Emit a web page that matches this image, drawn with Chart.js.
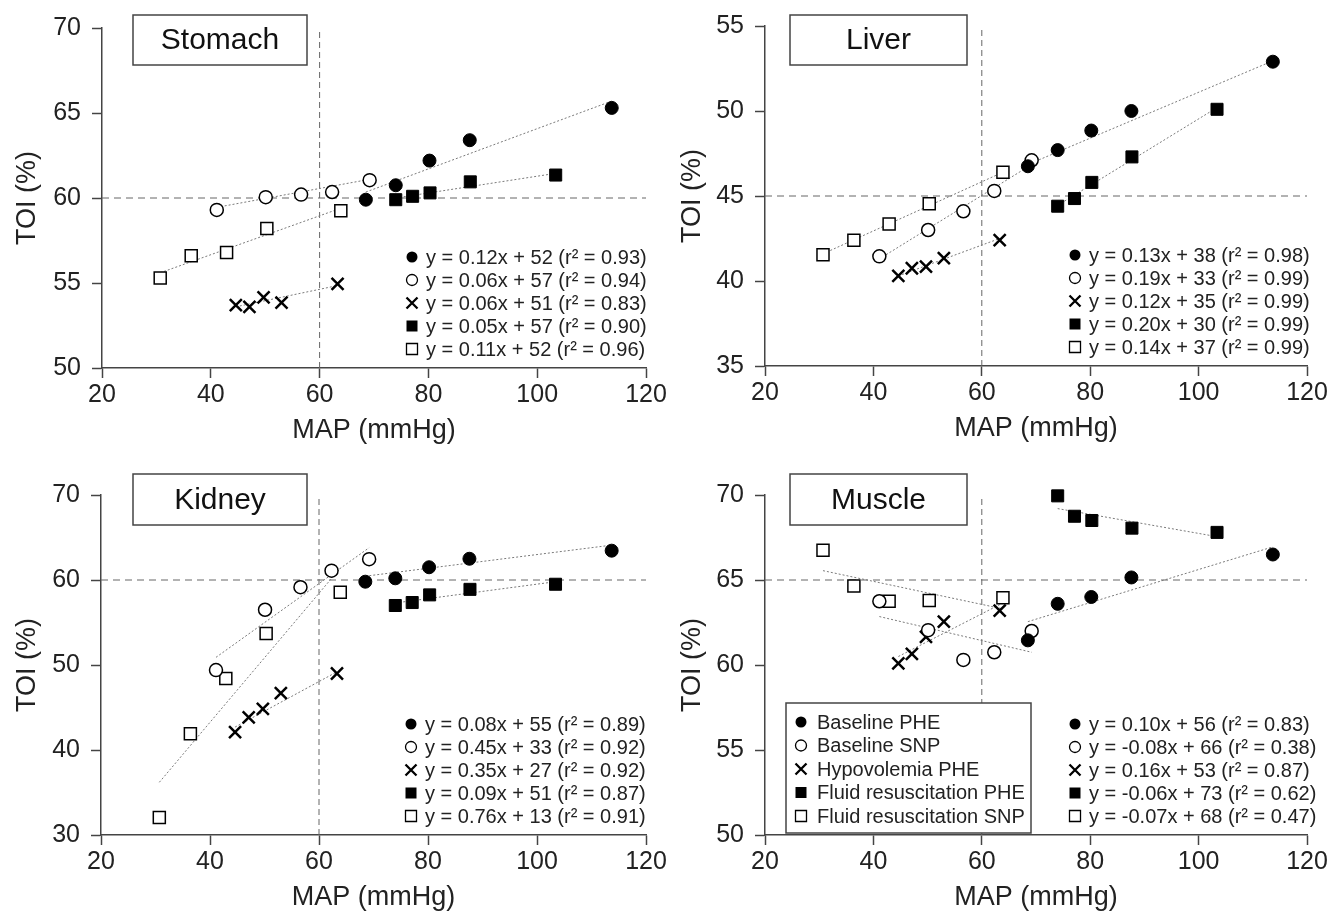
<!DOCTYPE html>
<html>
<head>
<meta charset="utf-8">
<title>TOI vs MAP</title>
<script src="https://cdn.jsdelivr.net/npm/chart.js@4.4.1/dist/chart.umd.min.js"></script>
<style>
  html, body { margin: 0; padding: 0; background: #fff; }
  #wrap { position: relative; width: 1331px; height: 915px; overflow: hidden; background: #fff; }
  #wrap canvas { position: absolute; }
</style>
</head>
<body>
<div id="wrap">
  <canvas id="cStomach" width="680" height="455" style="left:0;top:0"></canvas>
  <canvas id="cLiver" width="666" height="455" style="left:665px;top:0"></canvas>
  <canvas id="cKidney" width="680" height="460" style="left:0;top:455px"></canvas>
  <canvas id="cMuscle" width="666" height="460" style="left:665px;top:455px"></canvas>
</div>
<script>
// MAP (mmHg) per group, same for all organs
const mapBaselinePHE = [68.5, 74.0, 80.2, 87.6, 113.7];
const mapBaselineSNP = [41.1, 50.1, 56.6, 62.3, 69.2];
const mapHypoPHE = [44.6, 47.1, 49.7, 53.0, 63.3];
const mapFluidPHE = [74.0, 77.1, 80.3, 87.7, 103.4];
const mapFluidSNP = [30.7, 36.4, 42.9, 50.3, 63.9];
const mapTicks = [20, 40, 60, 80, 100, 120];
const mapRef = 60;

const groupNames = ['Baseline PHE', 'Baseline SNP', 'Hypovolemia PHE', 'Fluid resuscitation PHE', 'Fluid resuscitation SNP'];

// TOI (%) - stomach
const stomachBaselinePHE = [59.9, 60.75, 62.2, 63.4, 65.3];
const stomachBaselineSNP = [59.3, 60.05, 60.2, 60.35, 61.05];
const stomachHypoPHE = [53.7, 53.6, 54.15, 53.85, 54.95];
const stomachFluidPHE = [59.9, 60.1, 60.3, 60.95, 61.35];
const stomachFluidSNP = [55.3, 56.6, 56.8, 58.2, 59.25];
const stomachFits = [[68.5, 60.35, 113.7, 65.7], [41.1, 59.45, 69.2, 61.1], [44.6, 53.6, 63.3, 54.85], [74.0, 60.0, 103.4, 61.45], [30.7, 55.6, 63.9, 59.4]];
const stomachEqs = ['y = 0.12x + 52 (r² = 0.93)', 'y = 0.06x + 57 (r² = 0.94)', 'y = 0.06x + 51 (r² = 0.83)', 'y = 0.05x + 57 (r² = 0.90)', 'y = 0.11x + 52 (r² = 0.96)'];
const stomachTicks = [50, 55, 60, 65, 70];
const stomachRef = 60;

// TOI (%) - liver
const liverBaselinePHE = [46.75, 47.7, 48.85, 50.0, 52.9];
const liverBaselineSNP = [41.45, 43.0, 44.1, 45.3, 47.1];
const liverHypoPHE = [40.3, 40.75, 40.85, 41.35, 42.4];
const liverFluidPHE = [44.4, 44.85, 45.8, 47.3, 50.1];
const liverFluidSNP = [41.55, 42.4, 43.35, 44.55, 46.4];
const liverFits = [[68.5, 46.85, 113.7, 52.95], [41.1, 41.3, 69.2, 46.85], [44.6, 40.3, 63.3, 42.5], [74.0, 44.45, 103.4, 50.2], [30.7, 41.6, 63.9, 46.4]];
const liverEqs = ['y = 0.13x + 38 (r² = 0.98)', 'y = 0.19x + 33 (r² = 0.99)', 'y = 0.12x + 35 (r² = 0.99)', 'y = 0.20x + 30 (r² = 0.99)', 'y = 0.14x + 37 (r² = 0.99)'];
const liverTicks = [35, 40, 45, 50, 55];
const liverRef = 45;

// TOI (%) - kidney
const kidneyBaselinePHE = [59.8, 60.2, 61.5, 62.5, 63.45];
const kidneyBaselineSNP = [49.4, 56.5, 59.15, 61.1, 62.45];
const kidneyHypoPHE = [42.1, 43.85, 44.85, 46.7, 49.0];
const kidneyFluidPHE = [57.0, 57.35, 58.25, 58.9, 59.5];
const kidneyFluidSNP = [32.05, 41.9, 48.4, 53.7, 58.55];
const kidneyFits = [[68.5, 60.45, 113.7, 64.1], [41.1, 50.9, 69.2, 63.8], [44.6, 42.7, 63.3, 49.2], [74.0, 57.3, 103.4, 59.8], [30.7, 36.2, 63.9, 61.4]];
const kidneyEqs = ['y = 0.08x + 55 (r² = 0.89)', 'y = 0.45x + 33 (r² = 0.92)', 'y = 0.35x + 27 (r² = 0.92)', 'y = 0.09x + 51 (r² = 0.87)', 'y = 0.76x + 13 (r² = 0.91)'];
const kidneyTicks = [30, 40, 50, 60, 70];
const kidneyRef = 60;

// TOI (%) - muscle
const muscleBaselinePHE = [61.45, 63.6, 64.0, 65.15, 66.5];
const muscleBaselineSNP = [63.75, 62.05, 60.3, 60.75, 62.0];
const muscleHypoPHE = [60.1, 60.65, 61.65, 62.55, 63.2];
const muscleFluidPHE = [69.95, 68.75, 68.5, 68.05, 67.8];
const muscleFluidSNP = [66.75, 64.65, 63.75, 63.8, 63.95];
const muscleFits = [[68.5, 62.55, 113.7, 66.95], [41.1, 62.85, 69.2, 60.75], [44.6, 60.5, 63.3, 63.55], [74.0, 69.2, 103.4, 67.55], [30.7, 65.55, 63.9, 63.3]];
const muscleEqs = ['y = 0.10x + 56 (r² = 0.83)', 'y = -0.08x + 66 (r² = 0.38)', 'y = 0.16x + 53 (r² = 0.87)', 'y = -0.06x + 73 (r² = 0.62)', 'y = -0.07x + 68 (r² = 0.47)'];
const muscleTicks = [50, 55, 60, 65, 70];
const muscleRef = 65;

const FONT = '"Liberation Sans", Arial, Helvetica, sans-serif';
const INK = '#222';
const AXIS = '#444';

const groupX = [mapBaselinePHE, mapBaselineSNP, mapHypoPHE, mapFluidPHE, mapFluidSNP];
// marker look per group: filled dot, open dot, cross, filled square, open square
const marks = [
    { kind: 'dot', pointStyle: 'circle', radius: 6.5, bg: '#000', bw: 1 },
    { kind: 'ring', pointStyle: 'circle', radius: 6.5, bg: '#fff', bw: 1.5 },
    { kind: 'cross', pointStyle: 'crossRot', radius: 8.5, bg: '#000', bw: 2.5 },
    { kind: 'box', pointStyle: 'rect', radius: 8.5, bg: '#000', bw: 1 },
    { kind: 'openbox', pointStyle: 'rect', radius: 8.5, bg: '#fff', bw: 1.5 }
];

function drawMark(ctx, kind, x, y, s) {
    ctx.save();
    ctx.setLineDash([]);
    ctx.strokeStyle = '#000';
    ctx.fillStyle = '#000';
    ctx.beginPath();
    if (kind === 'dot' || kind === 'ring') {
        ctx.arc(x, y, s / 2, 0, Math.PI * 2);
        ctx.lineWidth = 1.3;
        if (kind === 'dot') ctx.fill(); else ctx.stroke();
    } else if (kind === 'box' || kind === 'openbox') {
        ctx.rect(x - s / 2, y - s / 2, s, s);
        ctx.lineWidth = 1.3;
        if (kind === 'box') ctx.fill(); else ctx.stroke();
    } else {
        const h = s / 2;
        ctx.lineWidth = 2.3;
        ctx.moveTo(x - h, y - h); ctx.lineTo(x + h, y + h);
        ctx.moveTo(x + h, y - h); ctx.lineTo(x - h, y + h);
        ctx.stroke();
    }
    ctx.restore();
}

// dashed reference lines, organ box, equations and group legend
const panelDecor = {
    id: 'panelDecor',
    beforeDatasetsDraw(chart, args, opts) {
        const { ctx, chartArea: a, scales: { x, y } } = chart;
        ctx.save();
        ctx.strokeStyle = '#666';
        ctx.lineWidth = 1;
        ctx.setLineDash([7, 5]);
        const yp = y.getPixelForValue(opts.refY);
        ctx.beginPath(); ctx.moveTo(a.left, yp); ctx.lineTo(a.right, yp); ctx.stroke();
        ctx.setLineDash([6, 4]);
        const xp = x.getPixelForValue(mapRef);
        ctx.beginPath(); ctx.moveTo(xp, a.top + 4); ctx.lineTo(xp, a.bottom); ctx.stroke();
        ctx.restore();
    },
    afterDraw(chart, args, opts) {
        const { ctx, chartArea: a } = chart;
        ctx.save();
        // organ name box
        const [bx, by, bw, bh] = opts.box;
        ctx.fillStyle = '#fff';
        ctx.fillRect(bx, by, bw, bh);
        ctx.strokeStyle = AXIS;
        ctx.lineWidth = 1.5;
        ctx.strokeRect(bx, by, bw, bh);
        ctx.fillStyle = '#111';
        ctx.font = '30px ' + FONT;
        ctx.textAlign = 'center';
        ctx.textBaseline = 'middle';
        ctx.fillText(opts.name, bx + bw / 2, by + bh / 2 + 1);

        // regression equations
        ctx.font = '20px ' + FONT;
        ctx.textAlign = 'left';
        ctx.fillStyle = INK;
        opts.eqs.forEach((t, i) => {
            const yy = a.bottom - 111 + i * 23;
            drawMark(ctx, marks[i].kind, a.left + 310, yy, 11);
            ctx.fillText(t, a.left + 324, yy + 1);
        });

        // group legend (muscle panel only)
        if (opts.groupLegend) {
            const lx = a.left + 21, ly = a.bottom - 132;
            ctx.fillStyle = '#fff';
            ctx.fillRect(lx, ly, 245, 130);
            ctx.strokeStyle = AXIS;
            ctx.lineWidth = 1.5;
            ctx.strokeRect(lx, ly, 245, 130);
            ctx.fillStyle = INK;
            groupNames.forEach((t, i) => {
                const yy = ly + 19 + i * 23.5;
                drawMark(ctx, marks[i].kind, lx + 15, yy, 11);
                ctx.fillText(t, lx + 31, yy + 1);
            });
        }
        ctx.restore();
    }
};

function makePanel(p) {
    const canvas = document.getElementById(p.id);
    const W = canvas.width, H = canvas.height;
    const yMin = p.ticks[0], yMax = p.ticks[p.ticks.length - 1];

    const datasets = [];
    p.vals.forEach((vals, g) => {
        const m = marks[g];
        datasets.push({
            label: groupNames[g],
            data: groupX[g].map((x, i) => ({ x: x, y: vals[i] })),
            pointStyle: m.pointStyle,
            pointRadius: m.radius,
            pointHoverRadius: m.radius,
            pointBackgroundColor: m.bg,
            pointBorderColor: '#000',
            pointBorderWidth: m.bw,
            showLine: false,
            clip: false,
            order: 1
        });
    });
    p.fits.forEach(f => {
        datasets.push({
            data: [{ x: f[0], y: f[1] }, { x: f[2], y: f[3] }],
            showLine: true,
            borderColor: '#7a7a7a',
            borderWidth: 1,
            borderDash: [2, 2],
            pointRadius: 0,
            pointHoverRadius: 0,
            clip: false,
            order: 2
        });
    });

    return new Chart(canvas, {
        type: 'scatter',
        data: { datasets: datasets },
        plugins: [panelDecor],
        options: {
            responsive: false,
            animation: false,
            devicePixelRatio: 1,
            layout: { padding: { left: 0, top: p.area.top, right: W - p.area.right, bottom: 0 } },
            plugins: {
                legend: { display: false },
                tooltip: { enabled: false },
                panelDecor: { name: p.name, eqs: p.eqs, refY: p.ref, box: p.box, groupLegend: p.groupLegend }
            },
            scales: {
                x: {
                    type: 'linear',
                    min: 20,
                    max: 120,
                    afterBuildTicks: s => { s.ticks = mapTicks.map(v => ({ value: v })); },
                    afterFit: s => { s.height = H - p.area.bottom; },
                    ticks: { color: INK, font: { size: 25, family: FONT }, padding: 2, maxRotation: 0 },
                    grid: { drawOnChartArea: false, drawTicks: true, tickLength: 10, tickColor: AXIS, tickWidth: 1.5 },
                    border: { display: true, color: AXIS, width: 1.5 },
                    title: {
                        display: true,
                        text: 'MAP (mmHg)',
                        color: INK,
                        font: { size: 27, family: FONT },
                        padding: { top: 0, bottom: H - (p.area.bottom + 63) - 16 }
                    }
                },
                y: {
                    type: 'linear',
                    min: yMin,
                    max: yMax,
                    afterBuildTicks: s => { s.ticks = p.ticks.map(v => ({ value: v })); },
                    afterFit: s => { s.width = p.area.left; },
                    ticks: { color: INK, font: { size: 25, family: FONT }, padding: 11 },
                    grid: { drawOnChartArea: false, drawTicks: true, tickLength: 10, tickColor: AXIS, tickWidth: 1.5 },
                    border: { display: true, color: AXIS, width: 1.5 },
                    title: {
                        display: true,
                        text: 'TOI (%)',
                        color: INK,
                        font: { size: 27, family: FONT },
                        padding: { top: 11, bottom: 0 }
                    }
                }
            }
        }
    });
}

const panels = [
    {
        id: 'cStomach', name: 'Stomach', ticks: stomachTicks, ref: stomachRef, fits: stomachFits, eqs: stomachEqs,
        vals: [stomachBaselinePHE, stomachBaselineSNP, stomachHypoPHE, stomachFluidPHE, stomachFluidSNP],
        area: { left: 102, right: 646, top: 28, bottom: 368 }, box: [133, 15, 174, 50], groupLegend: false
    },
    {
        id: 'cLiver', name: 'Liver', ticks: liverTicks, ref: liverRef, fits: liverFits, eqs: liverEqs,
        vals: [liverBaselinePHE, liverBaselineSNP, liverHypoPHE, liverFluidPHE, liverFluidSNP],
        area: { left: 100, right: 642, top: 25, bottom: 366 }, box: [125, 15, 177, 50], groupLegend: false
    },
    {
        id: 'cKidney', name: 'Kidney', ticks: kidneyTicks, ref: kidneyRef, fits: kidneyFits, eqs: kidneyEqs,
        vals: [kidneyBaselinePHE, kidneyBaselineSNP, kidneyHypoPHE, kidneyFluidPHE, kidneyFluidSNP],
        area: { left: 101, right: 646, top: 40, bottom: 380 }, box: [133, 19, 174, 51], groupLegend: false
    },
    {
        id: 'cMuscle', name: 'Muscle', ticks: muscleTicks, ref: muscleRef, fits: muscleFits, eqs: muscleEqs,
        vals: [muscleBaselinePHE, muscleBaselineSNP, muscleHypoPHE, muscleFluidPHE, muscleFluidSNP],
        area: { left: 100, right: 642, top: 40, bottom: 380 }, box: [125, 19, 177, 51], groupLegend: true
    }
];

panels.forEach(makePanel);
</script>
</body>
</html>
